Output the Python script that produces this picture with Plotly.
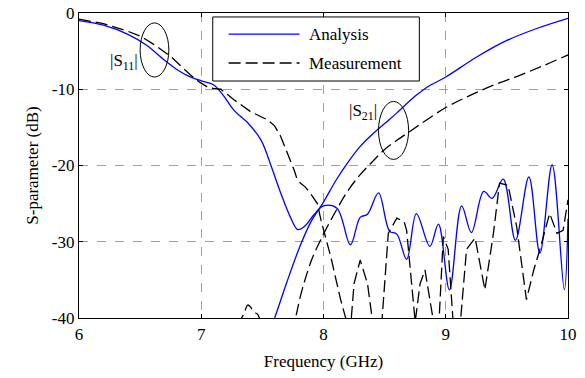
import plotly.graph_objects as go

# S11 analysis
s11_ana_f = [6.0, 6.2, 6.4, 6.55, 6.7, 6.8, 6.9, 7.0, 7.1, 7.18, 7.27, 7.38, 7.49, 7.57, 7.65, 7.73, 7.79, 7.85,
             7.92, 8.0, 8.11, 8.22, 8.30, 8.36, 8.45, 8.54, 8.60, 8.68, 8.76, 8.87, 8.94, 9.03, 9.13, 9.21, 9.31,
             9.38, 9.47, 9.57, 9.68, 9.77, 9.87, 9.97, 10.0]
s11_ana_db = [-1.0, -1.6, -2.8, -4.2, -6.2, -7.4, -8.3, -8.9, -9.4, -10.8, -12.8, -14.4, -16.7, -20.0, -23.6, -26.8,
              -28.4, -27.9, -26.5, -25.3, -25.6, -30.4, -26.8, -26.4, -23.6, -28.6, -29.0, -32.3, -26.3, -30.6,
              -27.7, -36.3, -25.3, -28.8, -23.4, -24.3, -21.8, -29.8, -21.5, -31.5, -19.9, -36.3, -27.0]

# S21 analysis
s21_ana_f = [7.55, 7.60, 7.70, 7.81, 7.90, 8.0, 8.1, 8.2, 8.3, 8.4, 8.5, 8.6, 8.75, 8.85, 9.0, 9.25, 9.5, 9.75, 10.0]
s21_ana_db = [-42.0, -40.0, -35.3, -30.5, -27.3, -24.8, -22.0, -19.6, -17.5, -15.9, -14.5, -13.1, -10.9, -9.7,
              -8.4, -5.8, -3.6, -2.0, -0.7]

# S11 measurement
s11_mea_f = [6.0, 6.2, 6.4, 6.51, 6.63, 6.75, 6.85, 6.91, 6.98, 7.05, 7.10, 7.16, 7.27, 7.40, 7.54, 7.60, 7.65,
             7.70, 7.73, 7.76, 7.78, 7.81, 7.85, 7.89, 7.95, 7.98, 8.06, 8.14, 8.19, 8.22, 8.25, 8.30, 8.36, 8.40,
             8.44, 8.48, 8.53, 8.60, 8.66, 8.68, 8.75, 8.79, 8.83, 8.90, 8.94, 8.98, 9.02, 9.06, 9.09, 9.12, 9.17,
             9.24, 9.32, 9.39, 9.44, 9.51, 9.58, 9.66, 9.72, 9.77, 9.85, 9.91, 9.96, 10.0]
s11_mea_db = [-0.8, -1.4, -2.4, -3.1, -4.3, -5.7, -7.2, -8.1, -9.0, -9.7, -9.9, -10.0, -11.4, -12.9, -14.0, -14.8,
              -16.2, -18.2, -19.2, -20.6, -21.6, -22.3, -22.8, -23.6, -25.0, -27.2, -32.0, -37.6, -40.5, -41.5,
              -35.5, -32.4, -35.5, -40.5, -45.0, -40.0, -28.9, -26.9, -27.4, -28.5, -40.5, -35.5, -33.7, -40.5,
              -42.0, -29.3, -31.0, -40.5, -45.0, -40.5, -31.0, -29.5, -36.3, -28.9, -22.3, -22.6, -28.0, -37.6,
              -33.7, -31.0, -26.3, -28.9, -28.5, -24.5]

# S21 measurement
s21_mea_f = [7.30, 7.33, 7.35, 7.38, 7.40, 7.43, 7.46, 7.48, 7.52, 7.72, 7.77, 7.81, 7.90, 8.0, 8.1, 8.2, 8.3,
             8.4, 8.5, 8.6, 8.7, 8.8, 9.0, 9.2, 9.4, 9.6, 9.8, 10.0]
s21_mea_db = [-41.0, -40.0, -39.4, -38.3, -38.5, -39.2, -39.5, -40.2, -42.0, -42.0, -40.0, -37.2, -32.5, -29.0,
              -26.0, -23.3, -21.2, -19.5, -17.9, -16.7, -15.6, -14.5, -12.4, -10.8, -9.4, -8.2, -6.9, -5.5]

x_ticks = [6, 7, 8, 9, 10]
y_ticks = [0, -10, -20, -30, -40]
legend_labels = ["Analysis", "Measurement"]

BLUE = "#0000ff"
FONT = "Times New Roman, Liberation Serif, serif"
FS = 17
DASH = "12px,5px"

fig = go.Figure()
fig.add_trace(go.Scatter(x=s11_ana_f, y=s11_ana_db, mode="lines", line=dict(color=BLUE, width=1.3, shape="spline"),
                         showlegend=False))
fig.add_trace(go.Scatter(x=s21_ana_f, y=s21_ana_db, mode="lines", line=dict(color=BLUE, width=1.3, shape="spline"),
                         showlegend=False))
fig.add_trace(go.Scatter(x=s11_mea_f, y=s11_mea_db, mode="lines", line=dict(color="black", width=1.3, dash=DASH),
                         showlegend=False))
fig.add_trace(go.Scatter(x=s21_mea_f, y=s21_mea_db, mode="lines",
                         line=dict(color="black", width=1.3, dash=DASH, shape="spline"), showlegend=False))

# ellipses
fig.add_shape(type="circle", xref="x", yref="y", x0=6.50, x1=6.735, y0=-1.3, y1=-8.4,
              line=dict(color="black", width=1))
fig.add_shape(type="circle", xref="x", yref="y", x0=8.45, x1=8.696, y0=-11.6, y1=-19.2,
              line=dict(color="black", width=1))
fig.add_annotation(x=6.50, y=-6.4, xref="x", yref="y", text="|S<sub>11</sub>|", showarrow=False,
                   xanchor="right", font=dict(family=FONT, size=FS, color="black"))
fig.add_annotation(x=8.45, y=-13.0, xref="x", yref="y", text="|S<sub>21</sub>|", showarrow=False,
                   xanchor="right", font=dict(family=FONT, size=FS, color="black"))

# legend (manual)
fig.add_shape(type="rect", xref="paper", yref="paper", x0=0.2735, x1=0.696, y0=0.777, y1=0.987,
              line=dict(color="black", width=1), fillcolor="white", layer="above")
fig.add_shape(type="line", xref="paper", yref="paper", x0=0.306, x1=0.451, y0=0.931, y1=0.931,
              line=dict(color=BLUE, width=1.3), layer="above")
fig.add_shape(type="line", xref="paper", yref="paper", x0=0.306, x1=0.451, y0=0.836, y1=0.836,
              line=dict(color="black", width=1.3, dash=DASH), layer="above")
for yy, lab in zip([0.931, 0.836], legend_labels):
    fig.add_annotation(x=0.467, y=yy, xref="paper", yref="paper", text=lab, showarrow=False,
                       xanchor="left", yanchor="middle", font=dict(family=FONT, size=FS, color="black"))

axis_common = dict(showline=True, linecolor="black", linewidth=1.3, mirror="ticks", ticks="inside", ticklen=4,
                   tickcolor="black", showgrid=True, gridcolor="#a0a0a0", griddash="dash", gridwidth=1,
                   zeroline=False, automargin=False, tickfont=dict(family=FONT, size=FS, color="black"))
fig.update_xaxes(range=[6, 10], tickvals=x_ticks, ticktext=[str(v) for v in x_ticks],
                 title=dict(text="Frequency (GHz)", font=dict(family=FONT, size=FS, color="black"), standoff=12),
                 **axis_common)
fig.update_yaxes(range=[-40, 0], tickvals=y_ticks, ticktext=[str(v) for v in y_ticks],
                 title=dict(text="S-parameter (dB)", font=dict(family=FONT, size=FS, color="black"), standoff=8),
                 **axis_common)
fig.update_layout(width=585, height=378, margin=dict(l=79, r=17, t=13, b=60), plot_bgcolor="white",
                  paper_bgcolor="white", showlegend=False, font=dict(family=FONT))
fig.write_html("out.html")
